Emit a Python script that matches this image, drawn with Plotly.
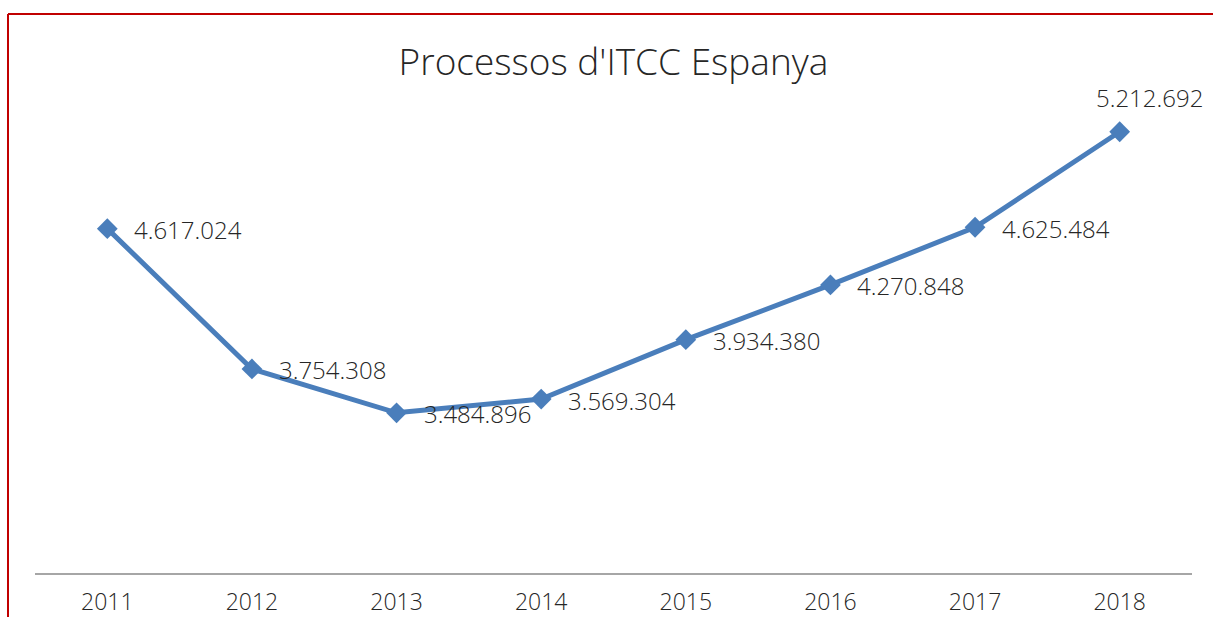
import plotly.graph_objects as go

# Annual ITCC case counts in Spain
years = ["2011", "2012", "2013", "2014", "2015", "2016", "2017", "2018"]
processos = [4617024, 3754308, 3484896, 3569304, 3934380, 4270848, 4625484, 5212692]
labels = ["4.617.024", "3.754.308", "3.484.896", "3.569.304",
          "3.934.380", "4.270.848", "4.625.484", "5.212.692"]

W, H = 1213, 617
ML, MR, MT, MB = 35, 21, 85, 44
FONT = "Open Sans"
LINE_COLOR = "#4A7EBB"
TEXT_COLOR = "#262626"

fig = go.Figure()
fig.add_trace(go.Scatter(
    x=years, y=processos, mode="lines+markers",
    line=dict(color=LINE_COLOR, width=5),
    marker=dict(symbol="diamond", size=16, color=LINE_COLOR),
    hoverinfo="skip", showlegend=False,
))

annotations = []
for i, (v, lab) in enumerate(zip(processos, labels)):
    last = i == len(processos) - 1
    annotations.append(dict(
        x=i, y=v, xref="x", yref="y", text=lab, showarrow=False,
        xanchor="center" if last else "left", yanchor="middle",
        xshift=30 if last else 25, yshift=34 if last else -1,
        font=dict(family=FONT, size=24, color=TEXT_COLOR, weight=300),
    ))

pw = W - ML - MR
ph = H - MT - MB
def px_x(p):
    return (p - ML) / pw
def px_y(p):
    return (H - MB - p) / ph

# Red frame around the chart area (top and left edges visible)
shapes = [
    dict(type="line", xref="paper", yref="paper",
         x0=px_x(8), x1=px_x(1213), y0=px_y(14), y1=px_y(14),
         line=dict(color="#C00000", width=2)),
    dict(type="line", xref="paper", yref="paper",
         x0=px_x(8), x1=px_x(8), y0=px_y(14), y1=px_y(617),
         line=dict(color="#C00000", width=2)),
]

fig.update_layout(
    width=W, height=H,
    margin=dict(l=ML, r=MR, t=MT, b=MB, autoexpand=False),
    paper_bgcolor="white", plot_bgcolor="white",
    title=dict(text="Processos d'ITCC Espanya", x=0.5, xref="paper",
               xanchor="center", y=1 - 62 / H, yanchor="middle",
               font=dict(family=FONT, size=37, color=TEXT_COLOR, weight=300)),
    xaxis=dict(type="category", range=[-0.5, 7.5], showgrid=False,
               showline=True, linecolor="#A6A6A6", linewidth=2,
               ticks="outside", ticklen=7, tickcolor="rgba(0,0,0,0)",
               zeroline=False, automargin=False,
               tickfont=dict(family=FONT, size=23, color=TEXT_COLOR, weight=300)),
    yaxis=dict(range=[2500000, 5500000], showgrid=False, showline=False,
               showticklabels=False, ticks="", zeroline=False, automargin=False),
    annotations=annotations,
    shapes=shapes,
)

fig.write_html("out.html")
